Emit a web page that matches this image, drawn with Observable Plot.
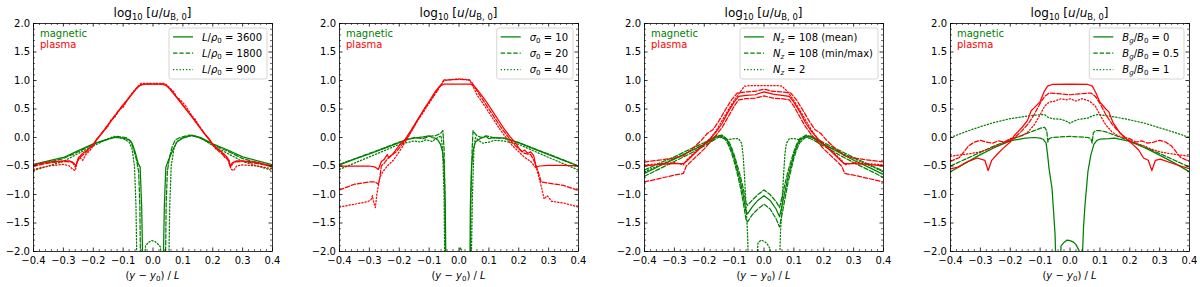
<!DOCTYPE html>
<html><head><meta charset="utf-8">
<script src="https://cdn.jsdelivr.net/npm/d3@7"></script>
<script src="https://cdn.jsdelivr.net/npm/@observablehq/plot@0.6"></script>
<style>
html,body{margin:0;padding:0;background:#fff;}
#fig{position:relative;width:1200px;height:287px;overflow:hidden;background:#fff;}
#fig svg{position:absolute;top:0;}
text{white-space:pre;}
</style></head><body><div id="fig"></div>
<script>
// ---------------- tick labels ----------------
const xTicks = [-0.4, -0.3, -0.2, -0.1, 0.0, 0.1, 0.2, 0.3, 0.4];
const yTicks = [-2.0, -1.5, -1.0, -0.5, 0.0, 0.5, 1.0, 1.5, 2.0];

// ---------------- panel 1 : L/rho0 ----------------
const p1MagSolid = [[-0.40,-0.47],[-0.35,-0.41],[-0.30,-0.35],[-0.25,-0.23],[-0.20,-0.11],[-0.16,-0.04],[-0.13,0.00],[-0.10,-0.01],[-0.08,-0.04],[-0.07,-0.10],[-0.06,-0.25],[-0.05,-0.45],[-0.043,-0.52],[-0.038,-1.2],[-0.033,-2.6],[0.033,-2.6],[0.038,-1.2],[0.043,-0.52],[0.05,-0.42],[0.06,-0.30],[0.07,-0.18],[0.08,-0.08],[0.10,-0.01],[0.13,0.04],[0.16,0.00],[0.20,-0.11],[0.25,-0.22],[0.30,-0.34],[0.35,-0.41],[0.40,-0.48]];
const p1MagDash = [[-0.40,-0.50],[-0.35,-0.43],[-0.30,-0.37],[-0.25,-0.25],[-0.20,-0.12],[-0.15,-0.03],[-0.12,0.02],[-0.09,0.00],[-0.075,-0.06],[-0.065,-0.2],[-0.055,-0.4],[-0.048,-0.6],[-0.044,-1.2],[-0.041,-2.6],[0.041,-2.6],[0.044,-1.2],[0.048,-0.6],[0.055,-0.35],[0.065,-0.15],[0.075,-0.04],[0.09,0.00],[0.12,0.04],[0.15,0.01],[0.20,-0.12],[0.25,-0.24],[0.30,-0.37],[0.35,-0.44],[0.40,-0.52]];
const p1MagDot = [[-0.40,-0.58],[-0.35,-0.50],[-0.30,-0.42],[-0.25,-0.28],[-0.20,-0.15],[-0.15,-0.02],[-0.13,0.02],[-0.10,-0.02],[-0.08,-0.08],[-0.07,-0.2],[-0.062,-0.5],[-0.057,-1.2],[-0.053,-2.6],[-0.035,-2.6],[-0.025,-1.9],[-0.015,-1.84],[-0.005,-1.81],[0.005,-1.82],[0.015,-1.86],[0.025,-1.92],[0.033,-2.6],[0.052,-2.6],[0.056,-1.2],[0.061,-0.5],[0.07,-0.2],[0.08,-0.07],[0.10,0.00],[0.13,0.03],[0.16,-0.01],[0.20,-0.14],[0.25,-0.28],[0.30,-0.42],[0.35,-0.50],[0.40,-0.58]];
const p1PlaSolid = [[-0.40,-0.48],[-0.35,-0.43],[-0.30,-0.41],[-0.28,-0.41],[-0.265,-0.45],[-0.258,-0.50],[-0.25,-0.36],[-0.24,-0.30],[-0.22,-0.22],[-0.20,-0.12],[-0.19,-0.04],[-0.17,0.08],[-0.15,0.22],[-0.13,0.36],[-0.11,0.50],[-0.09,0.63],[-0.07,0.76],[-0.055,0.86],[-0.045,0.91],[-0.03,0.935],[0.00,0.935],[0.03,0.935],[0.045,0.91],[0.055,0.86],[0.07,0.76],[0.09,0.63],[0.11,0.50],[0.13,0.36],[0.15,0.22],[0.17,0.08],[0.19,-0.04],[0.20,-0.12],[0.22,-0.22],[0.24,-0.30],[0.25,-0.36],[0.258,-0.50],[0.265,-0.45],[0.28,-0.41],[0.30,-0.41],[0.35,-0.44],[0.40,-0.50]];
const p1PlaDash = [[-0.40,-0.50],[-0.35,-0.45],[-0.30,-0.42],[-0.27,-0.43],[-0.26,-0.52],[-0.25,-0.38],[-0.24,-0.33],[-0.22,-0.24],[-0.20,-0.13],[-0.19,-0.05],[-0.17,0.09],[-0.15,0.23],[-0.13,0.37],[-0.11,0.51],[-0.09,0.64],[-0.07,0.77],[-0.05,0.89],[-0.04,0.93],[0.00,0.94],[0.04,0.93],[0.05,0.89],[0.07,0.77],[0.09,0.64],[0.11,0.50],[0.13,0.37],[0.15,0.23],[0.17,0.09],[0.19,-0.05],[0.20,-0.13],[0.22,-0.24],[0.24,-0.33],[0.25,-0.38],[0.26,-0.52],[0.27,-0.43],[0.30,-0.42],[0.35,-0.46],[0.40,-0.50]];
const p1PlaDot = [[-0.40,-0.56],[-0.35,-0.50],[-0.30,-0.47],[-0.28,-0.50],[-0.27,-0.55],[-0.26,-0.58],[-0.255,-0.45],[-0.245,-0.35],[-0.235,-0.40],[-0.225,-0.30],[-0.21,-0.22],[-0.20,-0.15],[-0.19,-0.05],[-0.17,0.08],[-0.15,0.20],[-0.14,0.32],[-0.13,0.34],[-0.11,0.50],[-0.10,0.53],[-0.09,0.62],[-0.07,0.78],[-0.05,0.90],[-0.04,0.95],[0.00,0.95],[0.04,0.95],[0.05,0.90],[0.07,0.80],[0.08,0.70],[0.09,0.67],[0.11,0.55],[0.13,0.38],[0.14,0.33],[0.15,0.24],[0.17,0.08],[0.19,-0.05],[0.20,-0.13],[0.21,-0.20],[0.23,-0.25],[0.24,-0.35],[0.255,-0.40],[0.26,-0.55],[0.27,-0.58],[0.28,-0.50],[0.30,-0.48],[0.35,-0.50],[0.40,-0.55]];

// ---------------- panel 2 : sigma0 ----------------
const p2MagSolid = [[-0.40,-0.48],[-0.35,-0.38],[-0.30,-0.29],[-0.25,-0.19],[-0.20,-0.09],[-0.17,-0.03],[-0.15,-0.01],[-0.12,0.01],[-0.10,0.03],[-0.09,0.00],[-0.08,-0.01],[-0.07,-0.05],[-0.062,-0.12],[-0.055,-0.25],[-0.05,-0.5],[-0.046,-1.2],[-0.043,-2.6],[0.036,-2.6],[0.038,-1.2],[0.042,-0.5],[0.048,-0.2],[0.055,-0.08],[0.07,-0.02],[0.09,0.02],[0.10,-0.02],[0.12,0.00],[0.15,-0.01],[0.20,-0.09],[0.25,-0.20],[0.30,-0.30],[0.35,-0.40],[0.40,-0.50]];
const p2MagDash = [[-0.40,-0.47],[-0.30,-0.28],[-0.20,-0.08],[-0.15,0.00],[-0.12,-0.02],[-0.10,0.02],[-0.08,0.03],[-0.07,0.05],[-0.06,0.08],[-0.054,0.12],[-0.05,-0.2],[-0.047,-1.0],[-0.045,-2.6],[0.038,-2.6],[0.040,-1.0],[0.044,-0.2],[0.047,0.12],[0.052,0.08],[0.06,0.03],[0.07,0.01],[0.08,0.00],[0.09,0.03],[0.10,0.02],[0.12,-0.01],[0.15,-0.01],[0.20,-0.09],[0.30,-0.29],[0.40,-0.50]];
const p2MagDot = [[-0.40,-0.56],[-0.30,-0.34],[-0.20,-0.12],[-0.15,-0.06],[-0.13,-0.08],[-0.11,-0.04],[-0.09,-0.07],[-0.08,-0.03],[-0.07,0.00],[-0.06,0.03],[-0.055,-0.2],[-0.05,-1.0],[-0.047,-2.6],[-0.005,-2.6],[0.00,-2.0],[0.005,-1.93],[0.01,-2.0],[0.015,-2.6],[0.040,-2.6],[0.045,-1.0],[0.05,-0.2],[0.055,0.00],[0.065,-0.05],[0.08,-0.10],[0.10,-0.08],[0.12,-0.05],[0.15,-0.06],[0.20,-0.12],[0.30,-0.35],[0.40,-0.57]];
const p2PlaSolid = [[-0.40,-0.50],[-0.35,-0.50],[-0.30,-0.50],[-0.28,-0.52],[-0.27,-0.56],[-0.26,-0.42],[-0.25,-0.38],[-0.24,-0.30],[-0.235,-0.36],[-0.22,-0.28],[-0.20,-0.14],[-0.18,-0.03],[-0.16,0.13],[-0.14,0.30],[-0.12,0.47],[-0.10,0.63],[-0.08,0.80],[-0.065,0.90],[-0.05,0.935],[0.00,0.935],[0.04,0.935],[0.055,0.88],[0.07,0.78],[0.09,0.64],[0.11,0.48],[0.13,0.32],[0.15,0.16],[0.17,0.02],[0.19,-0.10],[0.20,-0.18],[0.21,-0.25],[0.22,-0.22],[0.23,-0.28],[0.24,-0.25],[0.25,-0.32],[0.258,-0.52],[0.27,-0.50],[0.30,-0.49],[0.35,-0.49],[0.40,-0.50]];
const p2PlaDash = [[-0.40,-0.92],[-0.35,-0.82],[-0.30,-0.78],[-0.28,-0.78],[-0.27,-0.82],[-0.265,-0.70],[-0.26,-0.50],[-0.25,-0.45],[-0.24,-0.38],[-0.23,-0.33],[-0.21,-0.25],[-0.19,-0.12],[-0.17,0.02],[-0.15,0.20],[-0.13,0.38],[-0.11,0.55],[-0.09,0.70],[-0.07,0.85],[-0.055,0.97],[-0.05,1.01],[0.00,1.02],[0.035,1.01],[0.045,0.95],[0.06,0.82],[0.08,0.66],[0.10,0.50],[0.12,0.34],[0.14,0.18],[0.16,0.04],[0.18,-0.10],[0.20,-0.20],[0.22,-0.28],[0.24,-0.30],[0.255,-0.45],[0.265,-0.60],[0.275,-0.78],[0.30,-0.80],[0.35,-0.84],[0.40,-0.93]];
const p2PlaDot = [[-0.40,-1.22],[-0.35,-1.17],[-0.31,-1.13],[-0.295,-1.10],[-0.29,-1.02],[-0.285,-1.15],[-0.28,-1.23],[-0.275,-1.00],[-0.265,-0.70],[-0.255,-0.60],[-0.24,-0.50],[-0.22,-0.40],[-0.20,-0.25],[-0.18,-0.08],[-0.16,0.10],[-0.14,0.28],[-0.12,0.44],[-0.10,0.60],[-0.08,0.76],[-0.06,0.92],[-0.05,1.00],[0.00,1.03],[0.035,1.01],[0.045,0.92],[0.06,0.75],[0.08,0.60],[0.10,0.44],[0.12,0.28],[0.14,0.12],[0.16,-0.02],[0.18,-0.15],[0.20,-0.25],[0.22,-0.35],[0.24,-0.42],[0.26,-0.55],[0.275,-0.85],[0.285,-1.08],[0.295,-1.02],[0.30,-1.05],[0.31,-1.12],[0.35,-1.15],[0.40,-1.22]];

// ---------------- panel 3 : Nz ----------------
const p3MagMean = [[-0.40,-0.63],[-0.35,-0.50],[-0.30,-0.38],[-0.25,-0.25],[-0.20,-0.12],[-0.17,-0.02],[-0.15,0.03],[-0.13,0.00],[-0.12,-0.08],[-0.11,-0.20],[-0.10,-0.35],[-0.09,-0.55],[-0.08,-0.75],[-0.07,-1.00],[-0.06,-1.30],[-0.055,-1.34],[-0.04,-1.22],[-0.02,-1.10],[0.00,-1.02],[0.02,-1.10],[0.04,-1.25],[0.052,-1.39],[0.06,-1.20],[0.07,-0.95],[0.08,-0.70],[0.09,-0.50],[0.10,-0.30],[0.11,-0.15],[0.12,-0.05],[0.14,0.03],[0.16,0.00],[0.20,-0.12],[0.25,-0.26],[0.30,-0.40],[0.35,-0.52],[0.40,-0.65]];
const p3MagMax = [[-0.40,-0.57],[-0.35,-0.45],[-0.30,-0.34],[-0.25,-0.21],[-0.20,-0.09],[-0.16,0.03],[-0.14,0.04],[-0.12,-0.05],[-0.11,-0.16],[-0.10,-0.30],[-0.09,-0.48],[-0.08,-0.66],[-0.07,-0.88],[-0.06,-1.15],[-0.055,-1.19],[-0.04,-1.10],[-0.02,-1.00],[0.00,-0.92],[0.02,-1.00],[0.04,-1.12],[0.052,-1.23],[0.06,-1.05],[0.07,-0.82],[0.08,-0.60],[0.09,-0.42],[0.10,-0.25],[0.11,-0.11],[0.12,-0.02],[0.14,0.04],[0.16,0.02],[0.20,-0.09],[0.25,-0.22],[0.30,-0.35],[0.35,-0.47],[0.40,-0.59]];
const p3MagMin = [[-0.40,-0.68],[-0.35,-0.55],[-0.30,-0.42],[-0.25,-0.29],[-0.20,-0.15],[-0.17,-0.05],[-0.15,0.01],[-0.13,-0.03],[-0.12,-0.12],[-0.11,-0.25],[-0.10,-0.42],[-0.09,-0.62],[-0.08,-0.85],[-0.07,-1.12],[-0.06,-1.44],[-0.055,-1.48],[-0.04,-1.36],[-0.02,-1.25],[0.00,-1.17],[0.02,-1.25],[0.04,-1.42],[0.052,-1.57],[0.06,-1.36],[0.07,-1.08],[0.08,-0.80],[0.09,-0.58],[0.10,-0.36],[0.11,-0.20],[0.12,-0.09],[0.14,0.01],[0.16,-0.03],[0.20,-0.15],[0.25,-0.30],[0.30,-0.44],[0.35,-0.57],[0.40,-0.70]];
const p3MagNz2 = [[-0.40,-0.60],[-0.30,-0.37],[-0.20,-0.12],[-0.16,0.02],[-0.14,0.00],[-0.12,-0.04],[-0.10,-0.02],[-0.085,-0.02],[-0.075,-0.10],[-0.07,-0.30],[-0.065,-0.70],[-0.06,-1.20],[-0.055,-1.70],[-0.05,-2.6],[-0.03,-2.6],[-0.02,-1.85],[-0.01,-1.80],[0.00,-1.82],[0.01,-1.86],[0.02,-1.95],[0.03,-2.6],[0.05,-2.6],[0.055,-1.70],[0.06,-1.20],[0.065,-0.70],[0.07,-0.30],[0.075,-0.10],[0.085,-0.02],[0.10,-0.02],[0.12,-0.04],[0.14,0.00],[0.16,0.02],[0.20,-0.12],[0.30,-0.37],[0.40,-0.60]];
const p3PlaMean = [[-0.40,-0.50],[-0.35,-0.47],[-0.30,-0.46],[-0.27,-0.46],[-0.26,-0.42],[-0.24,-0.32],[-0.22,-0.22],[-0.20,-0.12],[-0.18,-0.02],[-0.16,0.10],[-0.14,0.25],[-0.12,0.45],[-0.10,0.62],[-0.085,0.72],[-0.06,0.74],[-0.03,0.75],[0.00,0.80],[0.03,0.76],[0.06,0.74],[0.085,0.72],[0.10,0.62],[0.12,0.45],[0.14,0.25],[0.16,0.10],[0.18,-0.02],[0.20,-0.12],[0.22,-0.22],[0.24,-0.32],[0.26,-0.42],[0.27,-0.46],[0.30,-0.46],[0.35,-0.47],[0.40,-0.50]];
const p3PlaMax = [[-0.40,-0.43],[-0.30,-0.36],[-0.27,-0.32],[-0.24,-0.20],[-0.21,-0.05],[-0.19,0.07],[-0.17,0.14],[-0.15,0.30],[-0.13,0.48],[-0.11,0.65],[-0.09,0.78],[-0.06,0.80],[-0.03,0.81],[0.00,0.85],[0.03,0.81],[0.06,0.80],[0.09,0.78],[0.11,0.65],[0.13,0.48],[0.15,0.30],[0.17,0.14],[0.19,0.07],[0.21,-0.05],[0.24,-0.20],[0.27,-0.32],[0.30,-0.36],[0.40,-0.43]];
const p3PlaMin = [[-0.40,-0.78],[-0.35,-0.72],[-0.30,-0.66],[-0.27,-0.63],[-0.26,-0.50],[-0.24,-0.40],[-0.22,-0.30],[-0.20,-0.20],[-0.18,-0.08],[-0.16,0.04],[-0.14,0.18],[-0.12,0.36],[-0.10,0.55],[-0.085,0.66],[-0.06,0.68],[-0.03,0.69],[0.00,0.73],[0.03,0.69],[0.06,0.68],[0.085,0.66],[0.10,0.55],[0.12,0.36],[0.14,0.18],[0.16,0.04],[0.18,-0.08],[0.20,-0.20],[0.22,-0.30],[0.24,-0.40],[0.26,-0.50],[0.27,-0.63],[0.30,-0.66],[0.35,-0.72],[0.40,-0.78]];
const p3PlaNz2 = [[-0.40,-0.48],[-0.30,-0.44],[-0.27,-0.48],[-0.26,-0.40],[-0.22,-0.20],[-0.18,-0.02],[-0.16,0.12],[-0.14,0.30],[-0.12,0.48],[-0.10,0.65],[-0.08,0.80],[-0.065,0.90],[-0.05,0.91],[0.05,0.91],[0.06,0.90],[0.08,0.80],[0.10,0.65],[0.12,0.48],[0.14,0.30],[0.16,0.12],[0.18,-0.02],[0.22,-0.20],[0.26,-0.40],[0.27,-0.48],[0.30,-0.44],[0.40,-0.48]];

// ---------------- panel 4 : Bg/B0 ----------------
const p4MagB0 = [[-0.40,-0.60],[-0.35,-0.45],[-0.30,-0.30],[-0.25,-0.17],[-0.20,-0.06],[-0.15,-0.01],[-0.12,0.00],[-0.10,-0.01],[-0.09,-0.03],[-0.08,-0.10],[-0.075,-0.30],[-0.07,-0.55],[-0.06,-0.90],[-0.055,-1.30],[-0.05,-1.70],[-0.045,-2.6],[-0.035,-2.6],[-0.03,-1.90],[-0.02,-1.84],[-0.01,-1.80],[0.00,-1.81],[0.01,-1.83],[0.02,-1.88],[0.03,-1.98],[0.038,-2.6],[0.045,-1.60],[0.05,-1.20],[0.06,-0.60],[0.07,-0.30],[0.08,-0.12],[0.09,-0.05],[0.10,-0.03],[0.13,-0.02],[0.15,-0.01],[0.20,-0.07],[0.25,-0.18],[0.30,-0.31],[0.35,-0.45],[0.40,-0.60]];
const p4MagB05 = [[-0.40,-0.50],[-0.35,-0.38],[-0.30,-0.26],[-0.25,-0.14],[-0.20,-0.04],[-0.15,0.06],[-0.12,0.12],[-0.10,0.16],[-0.085,0.18],[-0.078,0.12],[-0.074,-0.08],[-0.07,-0.02],[-0.06,0.00],[-0.03,0.01],[0.00,0.02],[0.03,0.01],[0.06,0.00],[0.07,-0.02],[0.074,-0.10],[0.078,0.08],[0.085,0.12],[0.10,0.12],[0.12,0.10],[0.15,0.04],[0.20,-0.06],[0.25,-0.17],[0.30,-0.28],[0.35,-0.40],[0.40,-0.52]];
const p4MagB1 = [[-0.40,0.00],[-0.35,0.10],[-0.30,0.19],[-0.25,0.27],[-0.20,0.33],[-0.15,0.37],[-0.12,0.39],[-0.10,0.40],[-0.085,0.40],[-0.075,0.36],[-0.06,0.33],[-0.03,0.32],[-0.01,0.28],[0.00,0.25],[0.01,0.28],[0.03,0.32],[0.06,0.34],[0.075,0.38],[0.09,0.40],[0.10,0.40],[0.15,0.36],[0.20,0.31],[0.25,0.25],[0.30,0.17],[0.35,0.09],[0.40,0.00]];
const p4PlaB0 = [[-0.40,-0.55],[-0.375,-0.52],[-0.345,-0.43],[-0.31,-0.36],[-0.285,-0.40],[-0.274,-0.58],[-0.262,-0.40],[-0.243,-0.29],[-0.226,-0.20],[-0.20,-0.08],[-0.187,0.03],[-0.16,0.18],[-0.142,0.30],[-0.13,0.47],[-0.12,0.52],[-0.10,0.63],[-0.087,0.80],[-0.075,0.90],[-0.06,0.93],[0.00,0.935],[0.06,0.93],[0.075,0.90],[0.087,0.78],[0.10,0.62],[0.12,0.50],[0.13,0.45],[0.144,0.26],[0.167,0.08],[0.19,-0.03],[0.21,-0.12],[0.23,-0.22],[0.246,-0.36],[0.262,-0.40],[0.274,-0.58],[0.286,-0.40],[0.302,-0.38],[0.347,-0.46],[0.40,-0.55]];
const p4PlaB05 = [[-0.40,-0.42],[-0.37,-0.35],[-0.34,-0.15],[-0.32,-0.08],[-0.30,-0.05],[-0.28,-0.08],[-0.26,-0.10],[-0.24,-0.06],[-0.22,-0.08],[-0.20,-0.02],[-0.185,0.00],[-0.16,0.12],[-0.14,0.24],[-0.12,0.40],[-0.10,0.60],[-0.085,0.72],[-0.07,0.78],[-0.04,0.77],[0.00,0.75],[0.04,0.77],[0.07,0.78],[0.085,0.72],[0.10,0.60],[0.12,0.40],[0.14,0.24],[0.16,0.12],[0.185,0.00],[0.20,-0.02],[0.22,-0.08],[0.24,-0.06],[0.26,-0.10],[0.28,-0.08],[0.30,-0.05],[0.32,-0.08],[0.34,-0.15],[0.37,-0.35],[0.40,-0.42]];
const p4PlaB1 = [[-0.40,-0.33],[-0.36,-0.30],[-0.33,-0.28],[-0.30,-0.25],[-0.27,-0.20],[-0.25,-0.15],[-0.22,-0.10],[-0.20,-0.05],[-0.18,0.00],[-0.16,0.03],[-0.14,0.10],[-0.12,0.22],[-0.10,0.40],[-0.085,0.55],[-0.07,0.62],[-0.05,0.64],[-0.03,0.68],[-0.01,0.66],[0.00,0.68],[0.02,0.64],[0.04,0.68],[0.06,0.65],[0.07,0.62],[0.085,0.55],[0.10,0.40],[0.12,0.22],[0.14,0.10],[0.16,0.03],[0.18,0.00],[0.20,-0.05],[0.22,-0.10],[0.25,-0.15],[0.27,-0.20],[0.30,-0.25],[0.33,-0.28],[0.36,-0.30],[0.40,-0.33]];

// ---------------- legend labels ----------------
const p1Labels = [
  [{t:"L",i:1},{t:"/"},{t:"ρ",i:1},{t:"0",sub:1},{t:" = 3600"}],
  [{t:"L",i:1},{t:"/"},{t:"ρ",i:1},{t:"0",sub:1},{t:" = 1800"}],
  [{t:"L",i:1},{t:"/"},{t:"ρ",i:1},{t:"0",sub:1},{t:" = 900"}]];
const p2Labels = [
  [{t:"σ",i:1},{t:"0",sub:1},{t:" = 10"}],
  [{t:"σ",i:1},{t:"0",sub:1},{t:" = 20"}],
  [{t:"σ",i:1},{t:"0",sub:1},{t:" = 40"}]];
const p3Labels = [
  [{t:"N",i:1},{t:"z",i:1,sub:1},{t:" = 108 (mean)"}],
  [{t:"N",i:1},{t:"z",i:1,sub:1},{t:" = 108 (min/max)"}],
  [{t:"N",i:1},{t:"z",i:1,sub:1},{t:" = 2"}]];
const p4Labels = [
  [{t:"B",i:1},{t:"g",i:1,sub:1},{t:"/"},{t:"B",i:1},{t:"0",sub:1},{t:" = 0"}],
  [{t:"B",i:1},{t:"g",i:1,sub:1},{t:"/"},{t:"B",i:1},{t:"0",sub:1},{t:" = 0.5"}],
  [{t:"B",i:1},{t:"g",i:1,sub:1},{t:"/"},{t:"B",i:1},{t:"0",sub:1},{t:" = 1"}]];
const titleSegs = [{t:"log"},{t:"10",sub:1},{t:" ["},{t:"u",i:1},{t:"/"},{t:"u",i:1},{t:"B, 0",sub:1},{t:"]"}];
const xLabelSegs = [{t:"("},{t:"y",i:1},{t:" − "},{t:"y",i:1},{t:"0",sub:1},{t:") / "},{t:"L",i:1}];
const textMag = "magnetic", textPla = "plasma";

// ---------------- layout ----------------
const GREEN = "#008000", RED = "#ff0000";
const LW = 1.25;
const DASH = {solid: null, dashed: "4.4,1.9", dotted: "1.25,2"};
const ML = 33, MR = 11, MT = 23, MB = 36, FW = 239, H = 287, W = ML + FW + MR, FH = H - MT - MB;
const panels = [
  {left: 0,     mag: [[p1MagSolid,"solid"],[p1MagDash,"dashed"],[p1MagDot,"dotted"]],
                pla: [[p1PlaSolid,"solid"],[p1PlaDash,"dashed"],[p1PlaDot,"dotted"]], labels: p1Labels},
  {left: 305.5, mag: [[p2MagSolid,"solid"],[p2MagDash,"dashed"],[p2MagDot,"dotted"]],
                pla: [[p2PlaSolid,"solid"],[p2PlaDash,"dashed"],[p2PlaDot,"dotted"]], labels: p2Labels},
  {left: 611,   mag: [[p3MagMean,"solid"],[p3MagMax,"dashed"],[p3MagMin,"dashed"],[p3MagNz2,"dotted"]],
                pla: [[p3PlaMean,"solid"],[p3PlaMax,"dashed"],[p3PlaMin,"dashed"],[p3PlaNz2,"dotted"]], labels: p3Labels},
  {left: 916.5, mag: [[p4MagB0,"solid"],[p4MagB05,"dashed"],[p4MagB1,"dotted"]],
                pla: [[p4PlaB0,"solid"],[p4PlaB05,"dashed"],[p4PlaB1,"dotted"]], labels: p4Labels}
];
const legendStyles = ["solid","dashed","dotted"];
const xMinor = d3.range(-20, 21).map(i => i * 0.02).filter(v => Math.abs(Math.round(v*10) - v*10) > 1e-6);
const yMinor = d3.range(-20, 21).map(i => i * 0.1).filter(v => Math.abs(Math.round(v*2) - v*2) > 1e-6);
const fmt = d3.format(".1f");

function rich(parent, segs, {x, y, size, anchor = "start", fill = "black"}) {
  const t = parent.append("text").attr("x", x).attr("y", y).attr("font-size", size)
    .attr("text-anchor", anchor).attr("fill", fill).attr("font-family", "DejaVu Sans");
  let cur = 0;
  for (const s of segs) {
    const shift = s.sub ? 0.22 * size : 0;
    const ts = t.append("tspan").text(s.t).attr("dy", shift - cur);
    cur = shift;
    if (s.i) ts.attr("font-style", "italic");
    if (s.sub) ts.attr("font-size", size * 0.7);
  }
  return t;
}

const fig = document.getElementById("fig");
for (const p of panels) {
  const lineMarks = [];
  for (const [data, st] of p.mag) lineMarks.push(Plot.line(data, {x: d => d[0], y: d => d[1], stroke: GREEN, strokeWidth: LW, strokeDasharray: DASH[st], clip: true}));
  for (const [data, st] of p.pla) lineMarks.push(Plot.line(data, {x: d => d[0], y: d => d[1], stroke: RED, strokeWidth: LW, strokeDasharray: DASH[st], clip: true}));
  const tick = (vals, opt) => Plot[opt.dir](vals, {[opt.dir === "tickX" ? "x" : "y"]: d => d, stroke: "black", strokeWidth: opt.w, ...opt.inset});
  const svgNode = Plot.plot({
    width: W, height: H, marginLeft: ML, marginRight: MR, marginTop: MT, marginBottom: MB,
    style: {fontFamily: "DejaVu Sans", fontSize: "10px", background: "transparent", overflow: "visible"},
    x: {domain: [-0.4, 0.4]}, y: {domain: [-2, 2]},
    marks: [
      ...lineMarks,
      tick(xTicks, {dir: "tickX", w: 0.8, inset: {insetTop: FH - 3.5}}),
      tick(xTicks, {dir: "tickX", w: 0.8, inset: {insetBottom: FH - 3.5}}),
      tick(xMinor, {dir: "tickX", w: 0.6, inset: {insetTop: FH - 2}}),
      tick(xMinor, {dir: "tickX", w: 0.6, inset: {insetBottom: FH - 2}}),
      tick(yTicks, {dir: "tickY", w: 0.8, inset: {insetRight: FW - 3.5}}),
      tick(yTicks, {dir: "tickY", w: 0.8, inset: {insetLeft: FW - 3.5}}),
      tick(yMinor, {dir: "tickY", w: 0.6, inset: {insetRight: FW - 2}}),
      tick(yMinor, {dir: "tickY", w: 0.6, inset: {insetLeft: FW - 2}}),
      Plot.axisX({ticks: xTicks, anchor: "bottom", tickSize: 0, tickPadding: 5, tickFormat: fmt, fontSize: 10, label: null}),
      Plot.axisY({ticks: yTicks, anchor: "left", tickSize: 0, tickPadding: 3.5, tickFormat: fmt, fontSize: 10, label: null}),
      Plot.frame({stroke: "black", strokeWidth: 0.8})
    ]
  });
  svgNode.style.left = p.left + "px";
  fig.appendChild(svgNode);
  const svg = d3.select(svgNode);
  const cx = ML + FW / 2;
  rich(svg, titleSegs, {x: cx, y: 17, size: 12, anchor: "middle"});
  rich(svg, xLabelSegs, {x: cx, y: 278.5, size: 10, anchor: "middle"});
  svg.append("text").attr("x", ML + 7).attr("y", MT + 13.7).attr("font-size", 10).attr("text-anchor", "start")
    .attr("font-family", "DejaVu Sans").attr("fill", GREEN).text(textMag);
  svg.append("text").attr("x", ML + 7).attr("y", MT + 24.9).attr("font-size", 10).attr("text-anchor", "start")
    .attr("font-family", "DejaVu Sans").attr("fill", RED).text(textPla);
  // legend
  const g = svg.append("g");
  const box = g.append("rect");
  const texts = p.labels.map((segs, k) => rich(g, segs, {x: 0, y: 0, size: 10}));
  const tw = d3.max(texts, t => t.node().getComputedTextLength());
  const bw = 33 + tw + 5, bh = 51;
  const bx = ML + FW - 5 - bw, by = MT + 5;
  box.attr("x", bx).attr("y", by).attr("width", bw).attr("height", bh).attr("rx", 2.5)
    .attr("fill", "white").attr("fill-opacity", 0.8).attr("stroke", "#cccccc").attr("stroke-width", 0.8);
  texts.forEach((t, k) => {
    const cy = by + 8.9 + k * 16.3;
    t.attr("x", bx + 33).attr("y", cy + 3.6);
    g.append("line").attr("x1", bx + 4).attr("x2", bx + 24).attr("y1", cy).attr("y2", cy)
      .attr("stroke", GREEN).attr("stroke-width", LW).attr("stroke-dasharray", DASH[legendStyles[k]]);
  });
}
</script></body></html>
